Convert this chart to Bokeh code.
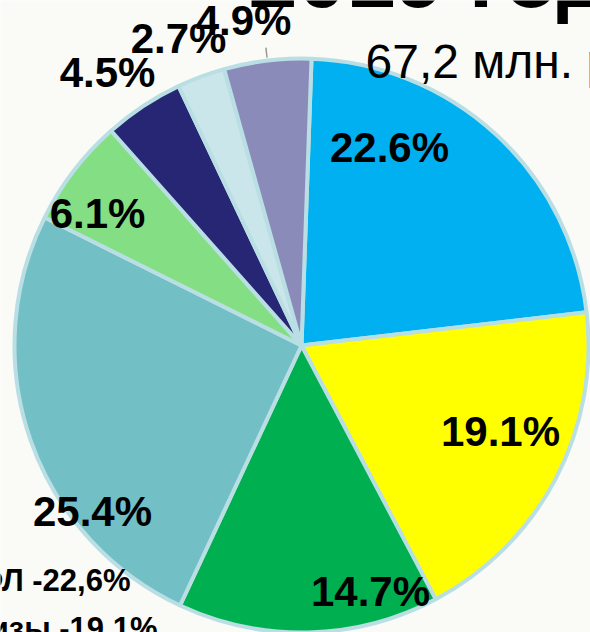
import math
from bokeh.plotting import figure
from bokeh.models import ColumnDataSource, Range1d
from bokeh.core.properties import value
from bokeh.embed import file_html
from bokeh.resources import INLINE

# ---- data ----
shares = [22.6, 19.1, 14.7, 25.4, 6.1, 4.5, 2.7, 4.9]
labels = ["22.6%", "19.1%", "14.7%", "25.4%", "6.1%", "4.5%", "2.7%", "4.9%"]
colors = ["#00b0f0", "#ffff00", "#00b050", "#72bfc5", "#84de84", "#262675", "#cbe6ea", "#8b8bba"]
title_text = "2019 год"
subtitle_text = "67,2 млн. руб."
legend_lines = ["НДФЛ -22,6%", "Акцизы -19,1%"]

# ---- layout (pixels, pie centre at origin, y up) ----
R = 287
OFFSET_DEG = 2.0
label_pos = [(88, 198), (199, -86), (69, -246), (-209, -166), (-204, 132), (-194, 273), (-123, 307), (-58, 325)]

total = sum(shares)
start_a, end_a, mids = [], [], []
cum = 0.0
for s in shares:
    a0 = math.radians(90 - OFFSET_DEG - cum / total * 360)
    cum += s
    a1 = math.radians(90 - OFFSET_DEG - cum / total * 360)
    start_a.append(a0)
    end_a.append(a1)
    mids.append((a0 + a1) / 2)

src = ColumnDataSource(dict(start=start_a, end=end_a, color=colors))

W, H = 590, 632
p = figure(width=W, height=H, output_backend="svg", toolbar_location=None,
           x_range=Range1d(-301, 289), y_range=Range1d(-287, 345),
           min_border=0)
p.axis.visible = False
p.grid.visible = False
p.outline_line_color = None
bg = "#fafaf7"
p.background_fill_color = bg
p.border_fill_color = bg

p.wedge(x=0, y=0, radius=R, start_angle="start", end_angle="end", direction="clock",
        fill_color="color", line_color="#b9dfe4", line_width=4, source=src)

# leader line for last small slice
m = mids[-1]
p.segment(x0=[290 * math.cos(m)], y0=[290 * math.sin(m)],
          x1=[300 * math.cos(m)], y1=[300 * math.sin(m)],
          line_color="#999999", line_width=1.5)

lsrc = ColumnDataSource(dict(x=[q[0] for q in label_pos], y=[q[1] for q in label_pos], t=labels))
p.text(x="x", y="y", text="t", source=lsrc, text_font=value("Liberation Sans"),
       text_font_style="bold", text_font_size="42px", text_align="center",
       text_baseline="middle", text_color="#000000")

# slide texts partly visible around the chart
p.text(x=[-53], y=[369], text=[title_text], text_font=value("Liberation Sans"),
       text_font_style="bold", text_font_size="88px", text_align="left",
       text_baseline="middle", text_color="#000000")
p.text(x=[64], y=[284], text=[subtitle_text], text_font=value("Liberation Sans"),
       text_font_size="48px", text_align="left", text_baseline="middle",
       text_color="#000000")
p.text(x=[-171, -144], y=[-235, -283], text=legend_lines, text_font=value("Liberation Sans"),
       text_font_style="bold", text_font_size="31px", text_align="right",
       text_baseline="middle", text_color="#000000")

open("out.html", "w").write(file_html(p, INLINE))
